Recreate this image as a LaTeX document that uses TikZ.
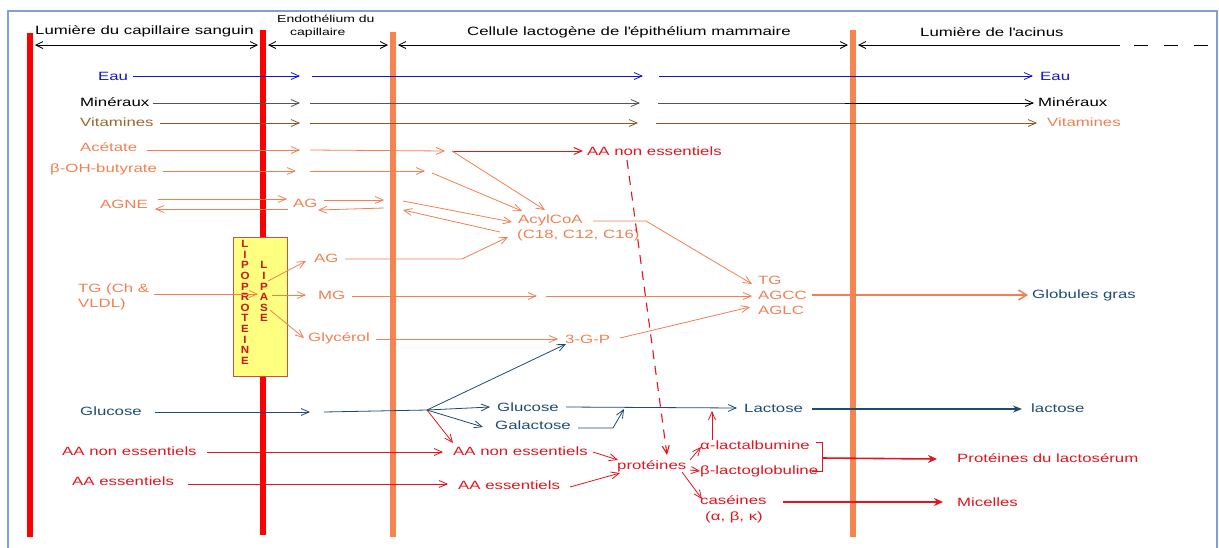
\documentclass[tikz,border=0pt]{standalone}
\usepackage{fontspec}
\setmainfont{Liberation Sans}[FakeStretch=1.4]
\newfontfamily\lipfont{Liberation Sans}[FakeStretch=1.1]
\usetikzlibrary{arrows.meta}
\definecolor{coral}{RGB}{240,128,82}
\definecolor{barc}{RGB}{247,131,79}
\definecolor{redd}{RGB}{228,20,30}
\definecolor{eaublue}{RGB}{20,20,205}
\definecolor{brownv}{RGB}{140,88,35}
\definecolor{brownt}{RGB}{150,105,45}
\definecolor{grayl}{RGB}{85,85,85}
\definecolor{darkb}{RGB}{30,75,115}
\definecolor{framec}{RGB}{125,160,215}
\definecolor{boxfill}{RGB}{255,255,128}
\definecolor{boxline}{RGB}{200,80,70}
\definecolor{lipred}{RGB}{210,20,20}
\begin{document}
\begin{tikzpicture}[x=1pt,y=-1pt,
 lab/.style={inner sep=0pt,anchor=west,text height=8.6pt,text depth=0pt,font=\fontsize{12}{14}\selectfont},
 labs/.style={inner sep=0pt,anchor=west,text height=7.2pt,text depth=0pt,font=\fontsize{10}{12}\selectfont},
 ar/.style={-{Straight Barb[length=8pt,width=7pt]}},
 arf/.style={-{Stealth[length=9pt,width=8pt]}},
 hd/.style={arrows={Straight Barb[length=7pt,width=7pt]}-{Straight Barb[length=7pt,width=7pt]}},
 ln/.style={line width=0.8pt},
 barl/.style={line width=6pt},
 lip/.style={inner sep=0pt,font=\lipfont\bfseries\fontsize{10.5}{11}\selectfont,text=lipred},
]
\useasboundingbox (0,0) rectangle (1219,547);
\draw[framec,line width=1.2pt] (8,11) rectangle (1217,552);

% membranes
\coordinate (b1t) at (30,33);  \coordinate (b1b) at (30,537);
\coordinate (b2t) at (263,30); \coordinate (b2b) at (263,535);
\coordinate (b3t) at (393,32); \coordinate (b3b) at (393,537);
\coordinate (b4t) at (853,30); \coordinate (b4b) at (853,537);
\draw[barl,red] (b1t) -- (b1b);
\draw[barl,red] (b2t) -- (b2b);
\draw[barl,barc] (b3t) -- (b3b);
\draw[barl,barc] (b4t) -- (b4b);

% header
\node[lab] (h1) at (35,30) {Lumière du capillaire sanguin};
\node[labs] (h2a) at (277,19) {Endothélium du};
\node[labs] (h2b) at (290,32) {capillaire};
\node[lab] (h3) at (467,31) {Cellule lactogène de l\textquotesingle épithélium mammaire};
\node[lab] (h4) at (920,32) {Lumière de l\textquotesingle acinus};
\coordinate (hA1) at (35,45);  \coordinate (hA2) at (258,45);
\coordinate (hB1) at (268,45); \coordinate (hB2) at (388,45);
\coordinate (hC1) at (398,45); \coordinate (hC2) at (848,45);
\coordinate (hD1) at (858,45); \coordinate (hD2) at (1120,45);
\coordinate (hE1) at (1134,45); \coordinate (hE2) at (1212,45);
\draw[ln,black,hd] (hA1) -- (hA2);
\draw[ln,black,hd] (hB1) -- (hB2);
\draw[ln,black,hd] (hC1) -- (hC2);
\draw[ln,black,arrows={Straight Barb[length=7pt,width=7pt]}-] (hD1) -- (hD2);
\draw[ln,black,dash pattern=on 14pt off 16pt] (hE1) -- (hE2);

% Eau
\node[lab,text=eaublue] (eau1) at (98,76) {Eau};
\node[lab,text=eaublue] (eau2) at (1040,76) {Eau};
\coordinate (eA) at (300,76); \coordinate (eB) at (312,76);
\coordinate (eC) at (643,76); \coordinate (eD) at (659,76);
\draw[ln,eaublue,ar] ([xshift=5pt]eau1.east) -- (eA);
\draw[ln,eaublue,ar] (eB) -- (eC);
\draw[ln,eaublue,ar] (eD) -- ([xshift=-7pt]eau2.west);

% Mineraux
\node[lab] (min1) at (80,102) {Minéraux};
\node[lab] (min2) at (1038,102) {Minéraux};
\coordinate (mA) at (300,103); \coordinate (mB) at (310,103);
\coordinate (mC) at (640,103); \coordinate (mD) at (658,103);
\coordinate (mE) at (845,103);
\draw[ln,grayl,ar] ([xshift=4pt]min1.east|-mA) -- (mA);
\draw[ln,grayl,ar] (mB) -- (mC);
\draw[ln,grayl] (mD) -- (mE);
\draw[ln,black,ar] (mE) -- ([xshift=-4pt]min2.west|-mD);

% Vitamines
\node[lab,text=brownt] (vit1) at (80,122) {Vitamines};
\node[lab,text=coral] (vit2) at (1047,122) {Vitamines};
\coordinate (vA) at (300,123); \coordinate (vB) at (310,123);
\coordinate (vC) at (638,123); \coordinate (vD) at (656,123);
\draw[ln,brownv,ar] ([xshift=6pt]vit1.east|-vA) -- (vA);
\draw[ln,brownv,ar] (vB) -- (vC);
\draw[ln,brownv,ar] (vD) -- ([xshift=-10pt]vit2.west|-vD);

% Acetate
\node[lab,text=coral] (ace) at (80,147) {Acétate};
\node[lab,text=redd] (aaT) at (587,151) {AA non essentiels};
\coordinate (acA) at (300,150); \coordinate (acB) at (310,150);
\coordinate (acC) at (445,151); \coordinate (J1) at (452,151);
\draw[ln,coral,ar] ([xshift=10pt]ace.east|-acA) -- (acA);
\draw[ln,coral,ar] (acB) -- (acC);
\draw[line width=1pt,redd,ar] (J1) -- ([xshift=-4pt]aaT.west);

% beta-OH-butyrate
\node[lab,text=coral] (boh) at (50,168) {β-OH-butyrate};
\coordinate (bA) at (296,171); \coordinate (bB) at (310,171);
\coordinate (bC) at (425,171); \coordinate (bD) at (432,173);
\draw[ln,coral,ar] ([xshift=6pt]boh.east|-bA) -- (bA);
\draw[ln,coral,ar] (bB) -- (bC);

% AGNE
\node[lab,text=coral] (agne) at (100,204) {AGNE};
\node[lab,text=coral] (ag1) at (293,203) {AG};
\coordinate (gA) at (158,199); \coordinate (gB) at (287,199);
\coordinate (gC) at (288,209); \coordinate (gD) at (155,209);
\coordinate (gE) at (324,200); \coordinate (gF) at (384,200);
\coordinate (gG) at (384,208); \coordinate (gH) at (318,210);
\coordinate (gI) at (403,201); \coordinate (gJ) at (500,232);
\coordinate (gK) at (403,210);
\draw[ln,coral,ar] (gA) -- (gB);
\draw[ln,coral,ar] (gC) -- (gD);
\draw[ln,coral,ar] (gE) -- (gF);
\draw[ln,coral,ar] (gG) -- (gH);

% AcylCoA
\node[lab,text=coral] (acyl) at (518,219) {AcylCoA};
\node[lab,text=coral] (acyl2) at (517,234) {(C18, C12, C16)};
\draw[ln,coral,ar] (J1) -- (545,210);
\draw[ln,coral,ar] (bD) -- (522,211);
\draw[ln,coral,ar] (gI) -- (512,222);
\draw[ln,coral,ar] (gJ) -- (gK);

% TG / AGCC / AGLC
\node[lab,text=coral] (tg) at (758,280) {TG};
\node[lab,text=coral] (agcc) at (758,295) {AGCC};
\node[lab,text=coral] (aglc) at (758,310) {AGLC};
\coordinate (cA) at (593,221); \coordinate (cB) at (646,221);
\draw[ln,coral,ar] (cA) -- (cB) -- (752,284);

% lipase box
\node[draw=boxline,fill=boxfill,line width=1pt,minimum width=54pt,minimum height=139pt,inner sep=0pt,anchor=north west] (box) at (233,237) {};
\foreach \l [count=\i from 0] in {L,I,P,O,P,R,O,T,E,I,N,E}
  \node[lip] (lp\i) at (245,{244+10.6*\i}) {\l};
\foreach \l [count=\i from 0] in {L,I,P,A,S,E}
  \node[lip] (ls\i) at (264,{265.2+10.6*\i}) {\l};

% AG from lipase
\node[lab,text=coral] (ag2) at (314,258) {AG};
\coordinate (lA) at (345,259); \coordinate (lB) at (462,259);
\draw[ln,coral,ar] (lA) -- (lB) -- (508,237);

% TG (Ch & VLDL)
\node[lab,text=coral] (tgc) at (78,288) {TG (Ch \&};
\node[lab,text=coral] (vldl) at (78,303) {VLDL)};
\node[lab,text=coral] (mg) at (318,295) {MG};
\node[lab,text=coral] (gly) at (308,337) {Glycérol};
\node[lab,text=coral] (g3p) at (565,339) {3-G-P};
\coordinate (tA) at (154,294); \coordinate (tB) at (258,294);
\draw[ln,coral,ar] (tA) -- (tB);
\draw[ln,coral,ar] (272,295) -- ([xshift=-12pt]mg.west);
\draw[ln,coral,ar] (268,281) -- (306,261);
\draw[ln,coral,ar] (270,310) -- (304,338);
\coordinate (mgA) at (352,296); \coordinate (mgB) at (537,296); \coordinate (mgC) at (546,296);
\draw[ln,coral,ar] (mgA) -- (mgB);
\draw[ln,coral,ar] (mgC) -- (752,296);
\coordinate (glA) at (376,339);
\draw[ln,coral,ar] (glA) -- ([xshift=-7pt]g3p.west|-glA);
\draw[ln,coral,ar] (620,338) -- (750,307);

% Globules gras
\node[lab,text=darkb] (glob) at (1032,294) {Globules gras};
\draw[line width=1.6pt,coral,-{Straight Barb[length=8pt,width=10pt]}] (812,295) -- ([xshift=-4pt]glob.west|-agcc.center);

% dashed red
\node[lab,text=redd] (prot) at (617,465) {protéines};
\coordinate (dA) at (627,160); \coordinate (dB) at (667,455);
\draw[line width=1.1pt,redd,dash pattern=on 9pt off 7pt,ar] (dA) -- (dB);

% Glucose
\node[lab,text=darkb] (glc1) at (80,411) {Glucose};
\node[lab,text=darkb] (glc2) at (497,407) {Glucose};
\node[lab,text=darkb] (gal) at (495,425) {Galactose};
\node[lab,text=darkb] (lac1) at (744,408) {Lactose};
\node[lab,text=darkb] (lac2) at (1031,408) {lactose};
\coordinate (uA) at (155,412); \coordinate (uB) at (310,412); \coordinate (uC) at (324,412);
\coordinate (JG) at (427,410);
\draw[ln,darkb,ar] (uA) -- (uB);
\draw[ln,darkb] (uC) -- (JG);
\draw[ln,darkb,ar] (JG) -- (566,344);
\draw[ln,darkb,ar] (JG) -- (490,407);
\draw[ln,darkb,ar] (JG) -- (483,427);
\draw[ln,darkb,ar] (566,407) -- (737,408);
\draw[ln,darkb,ar] (578,428) -- (613,428) -- (624,409);
\draw[line width=1.6pt,darkb,-{Stealth[length=9pt,width=7pt]}] (812,409) -- (1022,409);
\draw[ln,redd,ar] (JG) -- (453,443);

% amino acids
\node[lab,text=redd] (aane1) at (62,451) {AA non essentiels};
\node[lab,text=redd] (aane2) at (453,451) {AA non essentiels};
\node[lab,text=redd] (aae1) at (72,481) {AA essentiels};
\node[lab,text=redd] (aae2) at (458,485) {AA essentiels};
\coordinate (aA) at (207,452); \coordinate (aB) at (443,452);
\coordinate (aC) at (188,484); \coordinate (aD) at (448,484);
\draw[ln,redd,ar] (aA) -- (aB);
\draw[ln,redd,ar] (aC) -- (aD);
\draw[ln,redd,ar] (593,452) -- (618,460);
\draw[ln,redd,ar] (570,487) -- (620,473);

% proteins
\node[lab,text=redd] (alac) at (700,445) {α-lactalbumine};
\node[lab,text=redd] (blac) at (700,470) {β-lactoglobuline};
\node[lab,text=redd] (cas) at (700,500) {caséines};
\node[lab,text=redd] (cas2) at (705,516) {(α, β, κ)};
\draw[ln,redd,ar] (690,460) -- (701,447);
\draw[ln,redd,ar] (690,470) -- (700,471);
\draw[ln,redd,ar] (682,472) -- (702,499);
\draw[ln,redd,ar] (712,440) -- (712,411);
\coordinate (kA) at (816,442); \coordinate (kB) at (822,442);
\coordinate (kC) at (822,471); \coordinate (kD) at (812,471);
\coordinate (kM) at (822,458);
\draw[ln,redd] (kA) -- (kB) -- (kC) -- (kD);
\node[lab,text=redd] (plac) at (957,458) {Protéines du lactosérum};
\node[lab,text=redd] (mic) at (957,502) {Micelles};
\draw[line width=1.6pt,redd,arf] (kM) -- (937,459);
\draw[line width=1.6pt,redd,arf] (783,502) -- (943,502);
\end{tikzpicture}
\end{document}
